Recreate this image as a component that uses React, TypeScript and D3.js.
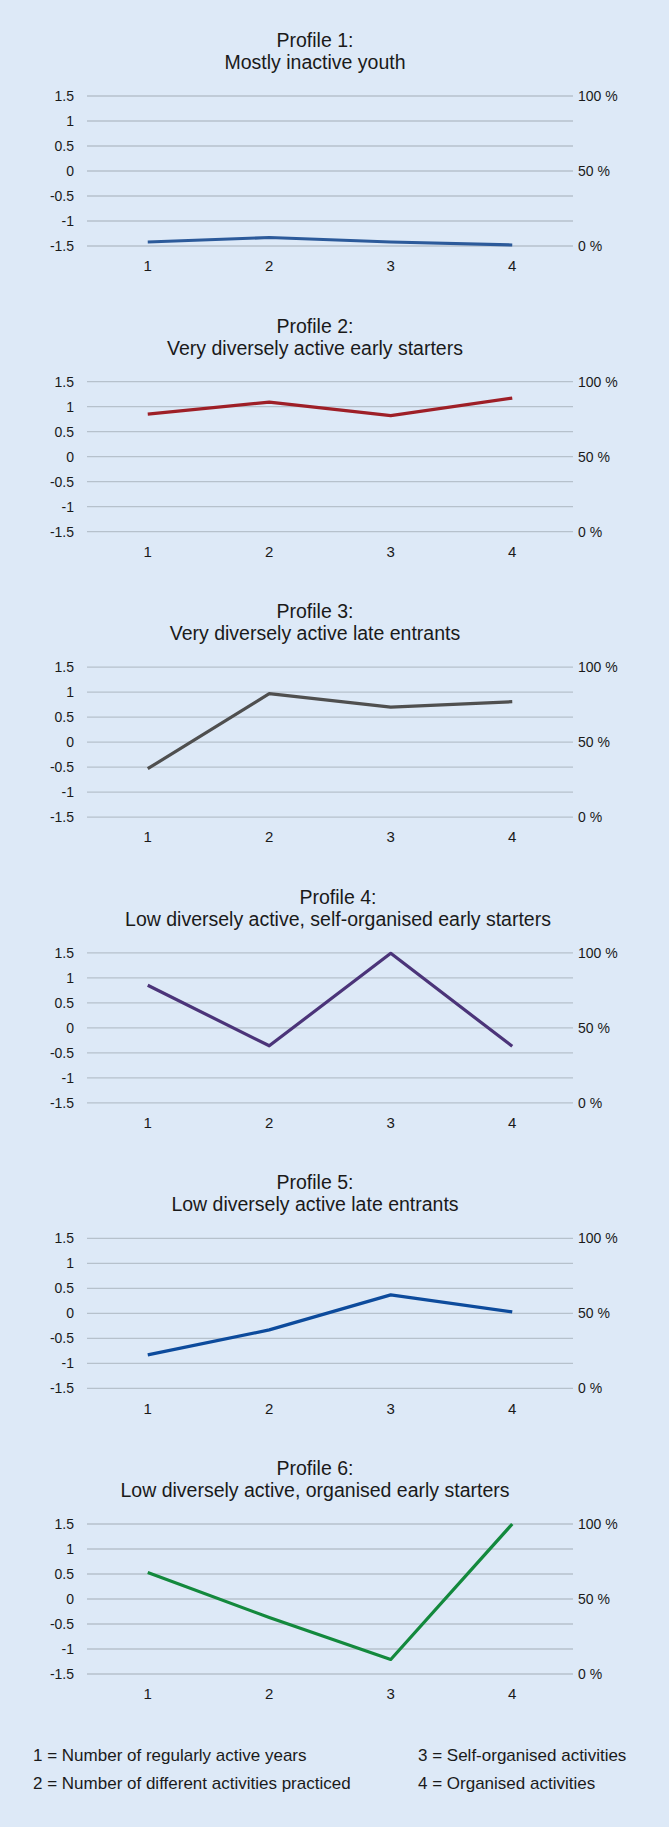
import * as d3 from 'd3'

const categories = ['1', '2', '3', '4']
const leftTicks = [1.5, 1, 0.5, 0, -0.5, -1, -1.5]
const rightTicks = [100, 50, 0]

const titles = [
  'Mostly inactive youth',
  'Very diversely active early starters',
  'Very diversely active late entrants',
  'Low diversely active, self-organised early starters',
  'Low diversely active late entrants',
  'Low diversely active, organised early starters',
]
const colors = ['#2c5a9a', '#9e1f27', '#4f4f4f', '#4b3479', '#0d4b9c', '#13893d']

const profile1 = [-1.42, -1.33, -1.42, -1.48]
const profile2 = [0.85, 1.09, 0.82, 1.17]
const profile3 = [-0.53, 0.97, 0.7, 0.81]
const profile4 = [0.85, -0.36, 1.49, -0.37]
const profile5 = [-0.83, -0.33, 0.37, 0.03]
const profile6 = [0.53, -0.37, -1.21, 1.5]
const profiles = [profile1, profile2, profile3, profile4, profile5, profile6]

const legendLeft = ['1 = Number of regularly active years', '2 = Number of different activities practiced']
const legendRight = ['3 = Self-organised activities', '4 = Organised activities']

const W = 669
const H = 1827
const FONT = '"Liberation Sans", Arial, Helvetica, sans-serif'
const firstTop = 96
const pitch = 285.6
const plotH = 150
// title 4 sits a bit further right in the original
const titleX = [315, 315, 315, 338, 315, 315]

function Panel({ index }: { index: number }) {
  const top = firstTop + index * pitch
  const x = d3.scaleBand<string>().domain(categories).range([87, 573])
  const y = d3.scaleLinear().domain([-1.5, 1.5]).range([top + plotH, top])
  const yRight = d3.scaleLinear().domain([0, 100]).range([top + plotH, top])
  const line = d3
    .line<number>()
    .x((_, i) => (x(categories[i]) ?? 0) + x.bandwidth() / 2)
    .y(d => y(d))

  return (
    <g>
      <text x={titleX[index]} y={top - 49} textAnchor="middle" fontSize={19.5} fill="#1a1a1a">
        {`Profile ${index + 1}:`}
      </text>
      <text x={titleX[index]} y={top - 27} textAnchor="middle" fontSize={19.5} fill="#1a1a1a">
        {titles[index]}
      </text>
      {leftTicks.map(t => (
        <g key={t}>
          <line x1={87} x2={573} y1={y(t)} y2={y(t)} stroke="#b6c1cc" strokeWidth={1.3} />
          <text x={74} y={y(t)} dy="0.35em" textAnchor="end" fontSize={14} fill="#1a1a1a">
            {t}
          </text>
        </g>
      ))}
      {rightTicks.map(t => (
        <text key={t} x={578} y={yRight(t)} dy="0.35em" fontSize={14} fill="#1a1a1a">
          {`${t} %`}
        </text>
      ))}
      {categories.map(c => (
        <text
          key={c}
          x={(x(c) ?? 0) + x.bandwidth() / 2}
          y={top + plotH + 20}
          dy="0.35em"
          textAnchor="middle"
          fontSize={15}
          fill="#1a1a1a"
        >
          {c}
        </text>
      ))}
      <path
        d={line(profiles[index]) ?? ''}
        fill="none"
        stroke={colors[index]}
        strokeWidth={3.2}
        strokeLinejoin="round"
      />
    </g>
  )
}

export default function App() {
  return (
    <>
      <style>{'body{margin:0}'}</style>
      <svg width={W} height={H} style={{ display: 'block', fontFamily: FONT }}>
        <rect width={W} height={H} fill="#dde9f7" />
        {profiles.map((_, i) => (
          <Panel key={i} index={i} />
        ))}
        {legendLeft.map((t, i) => (
          <text key={t} x={33} y={1761 + i * 28} fontSize={17} fill="#1a1a1a">
            {t}
          </text>
        ))}
        {legendRight.map((t, i) => (
          <text key={t} x={418} y={1761 + i * 28} fontSize={17} fill="#1a1a1a">
            {t}
          </text>
        ))}
      </svg>
    </>
  )
}
